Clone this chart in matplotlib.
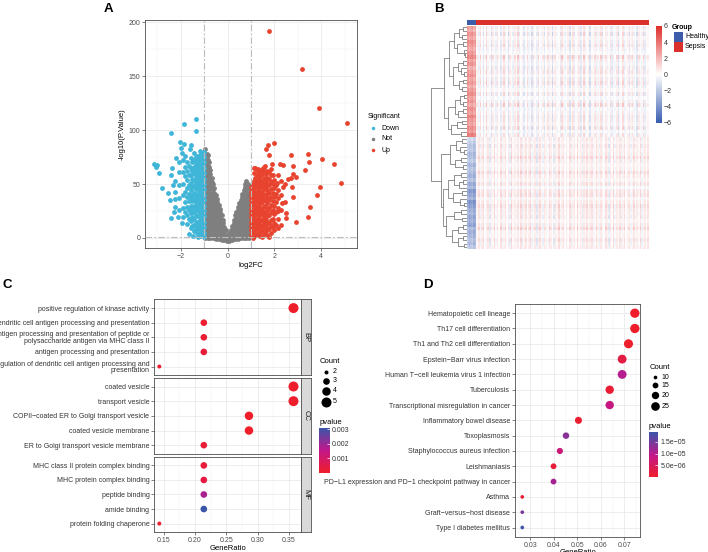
import numpy as np
import matplotlib
matplotlib.use('Agg')
import matplotlib.pyplot as plt
from matplotlib.colors import LinearSegmentedColormap, ListedColormap, Normalize
from matplotlib.cm import ScalarMappable
from matplotlib.patches import Rectangle

plt.rcParams['font.family'] = ['Liberation Sans', 'DejaVu Sans']

# ---------------- A: volcano data ----------------
gray_cols = [
    (-0.96, [0, 4, 9, 13, 18, 22, 27, 31, 36, 40, 45, 49, 54, 58, 63, 67, 72, 76, 82]),
    (-0.90, [2, 6, 11, 15, 20, 24, 29, 33, 38, 42, 47, 51, 56, 60, 65, 69, 74, 78]),
    (-0.85, [0, 4, 9, 13, 18, 22, 27, 31, 36, 40, 45, 49, 54, 58, 63, 67, 72, 77]),
    (-0.80, [2, 6, 11, 15, 20, 24, 29, 33, 38, 42, 47, 51, 56, 61, 66, 70]),
    (-0.74, [0, 4, 9, 13, 18, 22, 27, 31, 36, 40, 45, 49, 54, 59, 63]),
    (-0.68, [2, 6, 11, 15, 20, 24, 29, 33, 38, 42, 47, 52, 56]),
    (-0.62, [0, 4, 9, 13, 18, 22, 27, 31, 36, 40, 45, 50]),
    (-0.56, [2, 6, 11, 15, 20, 24, 29, 33, 38, 42, 46]),
    (-0.50, [-1, 4, 9, 13, 18, 22, 27, 31, 36, 40]),
    (-0.44, [1, 6, 11, 15, 20, 24, 29, 33, 36]),
    (-0.38, [-1, 3, 8, 13, 18, 22, 27, 31]),
    (-0.32, [0, 5, 10, 15, 19, 24, 27]),
    (-0.26, [-2, 3, 8, 12, 17, 21]),
    (-0.20, [0, 5, 10, 14, 17]),
    (-0.14, [-2, 2, 6, 10]),
    (-0.08, [-1, 3, 7]),
    (-0.03, [-3, 1]),
    (0.02, [-2, 2]),
    (0.08, [-3, 1, 5]),
    (0.14, [-1, 3, 7]),
    (0.20, [-2, 3, 7, 11]),
    (0.26, [0, 5, 9, 14, 17]),
    (0.32, [-1, 4, 8, 12, 17, 21]),
    (0.38, [1, 6, 10, 15, 19, 24]),
    (0.44, [-1, 4, 8, 13, 17, 21, 26, 29]),
    (0.50, [2, 6, 11, 15, 20, 24, 29, 32]),
    (0.56, [0, 4, 9, 13, 18, 22, 27, 31, 35]),
    (0.62, [2, 6, 11, 15, 20, 24, 29, 33, 38, 41]),
    (0.68, [0, 4, 9, 13, 18, 22, 27, 31, 36, 40, 44]),
    (0.73, [2, 6, 11, 15, 20, 24, 29, 33, 38, 42, 47, 50]),
    (0.78, [0, 4, 9, 13, 18, 22, 27, 31, 36, 40, 45, 49, 53]),
    (0.84, [2, 6, 11, 15, 20, 24, 29, 33, 38, 42, 47, 51]),
    (0.90, [0, 4, 9, 13, 18, 22, 27, 31, 36, 40, 45, 49]),
    (0.95, [2, 6, 11, 15, 20, 24, 29, 33, 38, 42, 47]),
]
down_cols = [
    (-1.00, [1, 5, 10, 15, 20, 25, 30, 35, 40, 45, 50, 55, 60, 65, 70, 75, 80]),
    (-1.05, [3, 8, 13, 18, 23, 28, 33, 38, 43, 48, 53, 58, 63, 68, 73, 78]),
    (-1.11, [5, 10, 15, 20, 25, 30, 35, 40, 45, 50, 55, 60, 65, 70, 75, 79]),
    (-1.17, [2, 7, 12, 17, 22, 27, 32, 37, 42, 47, 52, 57, 62, 67, 72, 77, 81]),
    (-1.23, [4, 9, 15, 20, 25, 29, 34, 39, 44, 49, 54, 59, 64, 69, 74]),
    (-1.30, [5, 10, 15, 20, 26, 31, 36, 41, 46, 51, 56, 61, 66, 71, 76]),
    (-1.37, [8, 14, 21, 27, 33, 39, 45, 51, 57, 63, 69, 75]),
    (-1.44, [6, 12, 18, 24, 30, 36, 42, 48, 54, 60, 66, 72, 79]),
    (-1.51, [11, 19, 27, 34, 40, 47, 55, 62, 70]),
    (-1.58, [9, 16, 23, 30, 37, 44, 51, 58, 65, 74]),
    (-1.66, [18, 26, 34, 41, 49, 58, 67]),
    (-1.73, [13, 21, 29, 38, 46, 54, 62, 70]),
    (-1.82, [24, 33, 43, 57, 66]),
    (-1.90, [19, 28, 40, 50, 61, 72]),
    (-2.07, [26, 37, 49, 61, 70]),
    (-2.24, [29, 43, 53]),
]
down_out_x = [-1.34, -1.88, -1.34, -2.41, -2.05, -1.87, -1.56, -2.00, -3.15, -3.02, -3.05, -2.92,
              -2.79, -2.41, -2.48, -2.39, -2.42, -2.20, -1.97, -1.80, -2.55, -2.30, -2.12, -1.95,
              -2.26, -1.66, -1.48, -1.28, -1.62, -2.34]
down_out_y = [110.5, 105.6, 98.8, 97.2, 88.6, 87.3, 85.8, 83.3, 69.0, 67.9, 65.7, 60.5,
              46.0, 18.8, 35.2, 64.5, 58.3, 74.0, 79.0, 76.0, 42.0, 24.0, 19.0, 14.0,
              36.0, 4.0, 2.0, 1.0, 82.0, 49.0]
up_cols = [
    (1.00, [3, 7, 11, 15, 19, 23, 27, 31, 35, 39, 43, 47]),
    (1.03, [1, 5, 9, 13, 17, 21, 25, 29, 33, 37, 41, 45]),
    (1.08, [0, 4, 8, 12, 16, 20, 24, 28, 32, 36, 40, 44, 50]),
    (1.12, [2, 6, 10, 14, 18, 22, 26, 30, 34, 38, 42, 47, 53, 60]),
    (1.18, [5, 10, 16, 21, 26, 31, 36, 41, 46, 51, 56, 65]),
    (1.25, [3, 8, 13, 18, 23, 28, 33, 38, 43, 48, 53, 58, 63]),
    (1.33, [5, 10, 15, 20, 25, 30, 35, 40, 45, 50, 55, 60]),
    (1.40, [2, 7, 12, 17, 22, 27, 32, 37, 42, 47, 52, 57, 61]),
    (1.48, [1, 6, 11, 17, 22, 27, 33, 38, 43, 48, 53, 59, 64]),
    (1.55, [4, 9, 14, 19, 24, 30, 35, 40, 45, 50, 56, 62, 66]),
    (1.62, [6, 11, 17, 23, 29, 35, 41, 47, 53, 59]),
    (1.70, [3, 8, 14, 20, 26, 32, 38, 44, 50, 56, 62]),
    (1.78, [1, 8, 14, 21, 28, 35, 42, 49, 55, 61]),
    (1.85, [5, 11, 17, 24, 31, 38, 45, 52, 58, 64]),
    (1.93, [10, 18, 26, 34, 42, 50, 58]),
    (2.00, [7, 14, 22, 30, 38, 46, 54]),
    (2.08, [12, 24, 33, 41, 49]),
    (2.15, [9, 18, 28, 37, 44, 58]),
    (2.30, [12, 26, 40, 53]),
]
up_out_x = [1.75, 3.20, 3.89, 5.11, 1.99, 1.74, 1.62, 1.78, 2.69, 3.42, 4.02, 4.54, 3.46, 2.79,
            3.29, 4.84, 3.93, 3.80, 3.52, 3.43, 2.92, 2.79, 2.76, 2.80, 2.92, 2.72, 2.56, 2.46,
            2.36, 2.24, 2.38, 1.91, 1.58, 1.14, 1.31, 2.45, 2.50, 2.49, 2.33, 2.16, 2.12]
up_out_y = [192.0, 157.0, 120.0, 107.0, 87.7, 85.8, 82.0, 76.8, 76.8, 77.8, 73.4, 69.0, 70.7, 66.7,
            62.7, 50.6, 47.0, 39.8, 28.7, 19.1, 14.8, 38.2, 47.0, 59.0, 56.8, 55.3, 54.4, 50.0,
            47.5, 69.0, 67.9, 69.0, 67.0, 65.0, 63.6, 33.6, 22.8, 18.8, 32.0, 25.0, 51.2]

# ---------------- B: heatmap data ----------------
healthy_up = [2.6, 2.2, 2.9, 2.4, 3.1, 2.7, 2.3, 2.8, 3.3, 2.5, 2.9, 2.1, 2.6, 3.0, 2.4,
              2.8, 2.2, 2.7, 3.2, 2.5, 2.9, 2.3, 3.0, 2.6, 3.4, 2.8, 2.5, 3.1, 2.7, 3.6]
healthy_down = [-1.4, -1.8, -2.2, -2.0, -2.5, -2.3, -1.9, -2.6, -2.1, -2.4, -2.8, -2.2, -3.0, -2.5, -3.6,
                -3.2, -2.7, -3.8, -3.4, -2.9, -2.6, -3.1, -2.8, -3.3, -2.4, -2.9, -2.6, -2.2, -2.5, -2.0]
healthy_cols = [0.3, -0.2, 0.1, 0.4, -0.3, 0.0]
sepsis_cols_top = [0.6, -0.4, 1.2, 0.1, -0.9, 0.3, 1.5, -0.2, 0.4, -1.1, 0.8, 0.0, -0.5, 1.0, 0.2, -0.7, 0.5, 1.3, -0.3, 0.1,
                   -1.2, 0.7, 0.3, -0.4, 0.9, -0.1, 1.4, -0.6, 0.2, 0.6, -0.8, 0.0, 1.1, -0.3, 0.4, -1.0, 0.8, 0.2, -0.5, 1.2,
                   0.1, -0.2, 0.7, -0.9, 0.3, 1.0, -0.4, 0.5, -1.3, 0.6, 0.9, -0.1, 0.2, -0.7, 1.3, 0.4, -0.3, 0.0, 0.8, -1.0,
                   0.5, 1.1, -0.6, 0.3, -0.2, 0.9, -0.8, 0.1, 1.4, -0.4, 0.2, 0.7, -1.1, 0.4, 0.0, 1.0, -0.5, 0.6, -0.2, 1.2,
                   -0.9, 0.3, 0.8, -0.3, 0.1, 1.1, -0.7, 0.5, -0.1, 0.9, -1.2, 0.4, 0.2, 1.3, -0.5, 0.0, 0.7, -0.8, 0.6, 1.0,
                   -0.3, 0.2, -1.0, 0.8, 0.4, -0.2, 1.2, -0.6, 0.3, 0.5]
sepsis_cols_bot = [0.3, 0.9, -0.5, 0.6, 1.1, -0.2, 0.4, 0.8, -0.9, 0.5, 0.2, 1.2, -0.3, 0.7, 0.0, 1.0, -0.6, 0.4, 0.9, -0.1,
                   0.6, -0.8, 1.3, 0.2, 0.5, -0.4, 0.8, 0.1, 1.1, -0.7, 0.4, 0.9, -0.2, 0.6, 1.2, -0.5, 0.3, 0.7, -1.0, 0.5,
                   1.0, 0.2, -0.6, 0.8, 0.4, -0.3, 1.1, 0.6, 0.0, -0.9, 0.7, 0.3, 1.2, -0.4, 0.5, 0.9, -0.2, 0.6, 0.1, 1.0,
                   -0.7, 0.4, 0.8, -0.1, 1.3, 0.2, 0.5, -0.8, 0.7, 0.3, 1.0, -0.3, 0.6, 0.9, -0.5, 0.2, 1.1, 0.4, -0.6, 0.8,
                   0.3, -0.2, 1.0, 0.5, -0.9, 0.7, 0.1, 1.2, -0.4, 0.6, 0.2, 0.9, -0.7, 0.4, 1.1, -0.1, 0.5, 0.8, -0.5, 0.3,
                   1.0, -0.3, 0.6, 0.2, 1.2, -0.6, 0.4, 0.7, -0.2, 0.9]
row_shift = [-0.2, -0.1, -0.3, 0.0, -0.2, -0.1, -0.3, -0.2, 0.1, -0.1, -0.2, -0.3, 0.0, -0.1, -0.2,
             -0.1, -0.3, 0.0, -0.2, -0.1, -0.2, 0.0, -0.3, -0.1, -0.2, -0.1, 0.0, -0.2, -0.3, -0.1,
             0.0, 0.1, -0.1, 0.1, 0.0, 0.2, -0.1, 0.1, 0.0, 0.1, 0.2, 0.0, 0.1, -0.1, 0.2,
             0.1, 0.0, 0.2, 0.1, 0.0, 0.1, -0.1, 0.1, 0.0, 0.2, 0.0, 0.1, 0.0, -0.1, 0.1]
row_gain = [0.9, 0.6, 1.2, 0.5, 0.8, 1.1, 0.7, 0.4, 1.3, 0.8, 0.6, 1.0, 1.0, 0.5, 0.9,
            1.2, 0.7, 0.4, 1.1, -0.3, 0.8, 1.3, 0.5, 0.7, 1.0, 0.9, 0.6, 1.2, 0.4, 0.9,
            0.8, 0.5, 1.1, 0.6, 0.8, 1.2, 0.9, 0.4, 0.7, 1.3, 0.6, 0.5, 1.0, -0.3, 0.8,
            1.1, 0.5, 0.6, 1.2, 0.9, 0.7, 1.0, 0.4, 0.9, 1.3, 0.6, 0.5, 1.1, 0.8, 0.7]
top_tree = [0.64,
            [0.50,
             [0.36, [0.22, [0.10, 0, 1], [0.14, 2, 3]], [0.27, [0.12, 4, 5], [0.09, 6, [0.05, 7, 8]]]],
             [0.40, [0.25, [0.11, 9, 10], [0.17, 11, [0.08, 12, 13]]], [0.21, [0.10, 14, 15], [0.13, 16, 17]]]],
            [0.54,
             [0.34, [0.19, [0.08, 18, 19], [0.12, 20, 21]], [0.24, [0.11, 22, 23], 24]],
             [0.44, [0.28, [0.13, 25, 26], 27], [0.18, 28, 29]]]]
bottom_tree = [0.72,
               [0.46, [0.30, [0.14, 30, 31], [0.20, 32, [0.09, 33, 34]]], [0.33, [0.16, 35, 36], [0.12, 37, 38]]],
               [0.66,
                [0.52, [0.35, [0.18, 39, 40], [0.22, [0.10, 41, 42], 43]],
                 [0.38, [0.15, 44, 45], [0.20, 46, [0.08, 47, 48]]]],
                [0.58, [0.36, [0.17, 49, 50], [0.14, 51, 52]],
                 [0.42, [0.24, [0.11, 53, 54], 55], [0.26, [0.12, 56, 57], [0.09, 58, 59]]]]]]
tree = [1.0, top_tree, bottom_tree]

# ---------------- C: GO enrichment ----------------
go_facets = ['BP', 'CC', 'MF']
go_terms = [
    ['positive regulation of kinase activity',
     'dendritic cell antigen processing and presentation',
     'antigen processing and presentation of peptide or\npolysaccharide antigen via MHC class II',
     'antigen processing and presentation',
     'regulation of dendritic cell antigen processing and\npresentation'],
    ['coated vesicle', 'transport vesicle', 'COPII\u2212coated ER to Golgi transport vesicle',
     'coated vesicle membrane', 'ER to Golgi transport vesicle membrane'],
    ['MHC class II protein complex binding', 'MHC protein complex binding', 'peptide binding',
     'amide binding', 'protein folding chaperone'],
]
go_ratio = [[0.357, 0.214, 0.214, 0.214, 0.143],
            [0.357, 0.357, 0.286, 0.286, 0.214],
            [0.214, 0.214, 0.214, 0.214, 0.143]]
go_count = [[5, 3, 3, 3, 2], [5, 5, 4, 4, 3], [3, 3, 3, 3, 2]]
go_p = [[2e-5, 1.5e-4, 2e-4, 3e-4, 1e-4],
        [3e-5, 6e-5, 1e-5, 5e-6, 2e-4],
        [2.5e-4, 3.5e-4, 1.8e-3, 3.1e-3, 1e-4]]

# ---------------- D: KEGG enrichment ----------------
kegg_terms = ['Hematopoietic cell lineage', 'Th17 cell differentiation', 'Th1 and Th2 cell differentiation',
              'Epstein\u2212Barr virus infection', 'Human T\u2212cell leukemia virus 1 infection', 'Tuberculosis',
              'Transcriptional misregulation in cancer', 'Inflammatory bowel disease', 'Toxoplasmosis',
              'Staphylococcus aureus infection', 'Leishmaniasis',
              'PD\u2212L1 expression and PD\u22121 checkpoint pathway in cancer', 'Asthma',
              'Graft\u2212versus\u2212host disease', 'Type I diabetes mellitus']
kegg_ratio = [0.0745, 0.0745, 0.0718, 0.0691, 0.0691, 0.0638, 0.0638, 0.0505, 0.0452, 0.0426,
              0.0399, 0.0399, 0.0266, 0.0266, 0.0266]
kegg_count = [28, 28, 27, 26, 26, 24, 24, 19, 17, 16, 15, 15, 10, 10, 10]
kegg_p = [2e-8, 5e-8, 3e-7, 2.5e-6, 1.05e-5, 1.2e-6, 8.5e-6, 6e-7, 1.35e-5, 7.5e-6,
          1.5e-6, 1.15e-5, 1e-6, 1.45e-5, 1.9e-5]

# ---------------- figure ----------------
W, H = 708, 552
fig = plt.figure(figsize=(W / 100, H / 100), dpi=100)
ov = fig.add_axes([0, 0, 1, 1])
ov.set_xlim(0, W)
ov.set_ylim(H, 0)
ov.axis('off')


def box(l, t, r, b):
    return fig.add_axes([l / W, 1 - b / H, (r - l) / W, (b - t) / H])


def bw(ax):
    for s in ax.spines.values():
        s.set_color('#4d4d4d')
        s.set_linewidth(0.6)
    ax.tick_params(which='major', labelsize=5, colors='#4d4d4d', length=2, width=0.5, pad=1.5)
    ax.tick_params(which='minor', length=0)
    ax.grid(which='major', color='#e6e6e6', lw=0.5)
    ax.grid(which='minor', color='#f2f2f2', lw=0.35)
    ax.set_axisbelow(True)


def pts(d_px):
    return (d_px * 0.72) ** 2


def area_size(c, cmin, cmax, dmin, dmax):
    c = np.asarray(c, dtype=float)
    return pts(np.sqrt(dmin ** 2 + (c - cmin) / (cmax - cmin) * (dmax ** 2 - dmin ** 2)))


def flatten(cols):
    xs, ys = [], []
    for x, yl in cols:
        xs += [x] * len(yl)
        ys += yl
    return xs, ys


c_down, c_not, c_up = '#3fb5d8', '#7f7f7f', '#e8432e'

# A
axA = box(145, 20, 357, 248)
bw(axA)
gx, gy = flatten(gray_cols)
dx, dy = flatten(down_cols)
ux, uy = flatten(up_cols)
axA.scatter(gx, gy, s=12, c=c_not, lw=0)
axA.scatter(dx + down_out_x, dy + down_out_y, s=12, c=c_down, lw=0)
axA.scatter(ux + up_out_x, uy + up_out_y, s=12, c=c_up, lw=0)
dash = (0, (6, 2, 1.5, 2))
for v in (-1, 1):
    axA.axvline(v, color='#bdbdbd', lw=0.8, ls=dash, zorder=3)
axA.axhline(1.3, color='#bdbdbd', lw=0.8, ls=dash, zorder=3)
axA.set_xlim(-3.53, 5.53)
axA.set_ylim(-9.3, 202)
axA.set_xticks([-2, 0, 2, 4])
axA.set_xticks([-3, -1, 1, 3, 5], minor=True)
axA.set_yticks([0, 50, 100, 150, 200])
axA.set_yticks([25, 75, 125, 175], minor=True)
axA.set_xlabel('log2FC', fontsize=5.5, labelpad=1.5)
axA.set_ylabel('-log10(P.Value)', fontsize=5.5, labelpad=2)

ov.text(368, 117, 'Significant', fontsize=5, va='center', ha='left')
for yy, lab, col in [(128, 'Down', c_down), (139, 'Not', c_not), (150, 'Up', c_up)]:
    ov.scatter([373], [yy], s=pts(3.5), c=col, lw=0)
    ov.text(381, yy, lab, fontsize=5, va='center', ha='left')

# B
n_h = len(healthy_cols)
n_top = len(healthy_up)
h_rows = np.array(healthy_up + healthy_down)
sep_pattern = np.vstack([np.tile(sepsis_cols_top, (n_top, 1)),
                         np.tile(sepsis_cols_bot, (len(healthy_down), 1))])
mat = np.hstack([h_rows[:, None] + np.array(healthy_cols)[None, :],
                 np.array(row_shift)[:, None] + np.array(row_gain)[:, None] * sep_pattern])
hm_cmap = LinearSegmentedColormap.from_list('hm', ['#3a5db0', '#ffffff', '#dd2e2a'])
g_blue, g_red = '#3d5dab', '#d9302c'

axAnn = box(467, 20, 648, 25)
axAnn.imshow([[0] * n_h + [1] * len(sepsis_cols_top)], aspect='auto',
             cmap=ListedColormap([g_blue, g_red]), interpolation='nearest')
axAnn.axis('off')

axH = box(467, 25.5, 648, 249.3)
axH.imshow(mat, aspect='auto', cmap=hm_cmap, vmin=-6, vmax=6, interpolation='nearest')
axH.axis('off')

axDen = box(430, 25.5, 467, 249.3)


def draw_tree(ax, node):
    if isinstance(node, int):
        return node + 0.5, 0.0
    h, left, right = node
    y1, h1 = draw_tree(ax, left)
    y2, h2 = draw_tree(ax, right)
    ax.plot([h1, h, h, h2], [y1, y1, y2, y2], color='#555555', lw=0.45, solid_capstyle='butt')
    return (y1 + y2) / 2, h


draw_tree(axDen, tree)
axDen.set_xlim(1.03, 0)
axDen.set_ylim(len(h_rows), 0)
axDen.axis('off')

caxB = box(656, 26, 661.7, 122.7)
cbB = fig.colorbar(ScalarMappable(Normalize(-6, 6), hm_cmap), cax=caxB)
cbB.outline.set_visible(False)
cbB.set_ticks([-6, -4, -2, 0, 2, 4, 6])
cbB.set_ticklabels(['\u22126', '\u22124', '\u22122', '0', '2', '4', '6'])
caxB.tick_params(labelsize=5, length=0, pad=1.5, colors='#333333')

ov.text(671.7, 27.3, 'Group', fontsize=5, fontweight='bold', va='center', ha='left')
ov.add_patch(Rectangle((674, 32), 9, 9.7, color=g_blue, lw=0))
ov.add_patch(Rectangle((674, 41.7), 9, 10, color=g_red, lw=0))
ov.text(685, 36.8, 'Healthy', fontsize=5, va='center', ha='left')
ov.text(685, 46.7, 'Sepsis', fontsize=5, va='center', ha='left')

# C
pcmap = LinearSegmentedColormap.from_list('pv', ['#ef1e2a', '#c2178b', '#3b55a8'])
all_p = sum(go_p, [])
normC = Normalize(min(all_p), max(all_p))
facet_rows = [(299.3, 375.3), (377.7, 454), (456.7, 532.3)]
for k, (t, b) in enumerate(facet_rows):
    ax = box(154.3, t, 301, b)
    bw(ax)
    yy = np.arange(1, len(go_terms[k]) + 1)
    ax.scatter(go_ratio[k], yy, s=area_size(go_count[k], 2, 5, 4, 10), c=go_p[k], cmap=pcmap,
               norm=normC, lw=0, zorder=3)
    ax.set_ylim(len(yy) + 0.6, 0.4)
    ax.set_yticks(yy)
    ax.set_yticklabels(go_terms[k], fontsize=5, color='#333333', linespacing=0.95)
    ax.set_xlim(0.135, 0.369)
    ax.set_xticks([0.15, 0.20, 0.25, 0.30, 0.35])
    ax.set_xticks([0.175, 0.225, 0.275, 0.325], minor=True)
    if k < 2:
        ax.tick_params(axis='x', which='major', length=0, labelbottom=False)
    else:
        ax.set_xticklabels(['0.15', '0.20', '0.25', '0.30', '0.35'])
        ax.set_xlabel('GeneRatio', fontsize=5.5, labelpad=0.5)
    st = box(301, t, 310.7, b)
    st.set_facecolor('#d9d9d9')
    for s in st.spines.values():
        s.set_color('#4d4d4d')
        s.set_linewidth(0.6)
    st.set_xticks([])
    st.set_yticks([])
    st.text(0.5, 0.5, go_facets[k], rotation=270, fontsize=5.5, color='#1a1a1a',
            ha='center', va='center', transform=st.transAxes)

ov.text(320, 361.7, 'Count', fontsize=5.5, va='center', ha='left')
for yy, cnt in zip([371.7, 380.7, 390.7, 401.7], [2, 3, 4, 5]):
    ov.scatter([325.5], [yy], s=area_size([cnt], 2, 5, 4, 10), c='black', lw=0)
    ov.text(333, yy, str(cnt), fontsize=5, va='center', ha='left')
ov.text(319.3, 422.7, 'pvalue', fontsize=5.5, va='center', ha='left')
caxC = box(319.3, 428, 330, 472.7)
cbC = fig.colorbar(ScalarMappable(normC, pcmap), cax=caxC)
cbC.outline.set_visible(False)
cbC.set_ticks([0.001, 0.002, 0.003])
cbC.set_ticklabels(['0.001', '0.002', '0.003'])
caxC.tick_params(labelsize=5, length=2, width=0.5, color='white', direction='in', pad=1.5, labelcolor='#333333')

# D
normD = Normalize(min(kegg_p), max(kegg_p))
axD = box(515, 304, 640, 536.7)
bw(axD)
yk = np.arange(1, len(kegg_terms) + 1)
axD.scatter(kegg_ratio, yk, s=area_size(kegg_count, 10, 28, 3.7, 9.3), c=kegg_p, cmap=pcmap,
            norm=normD, lw=0, zorder=3)
axD.set_ylim(len(yk) + 0.6, 0.4)
axD.set_yticks(yk)
axD.set_yticklabels(kegg_terms, fontsize=5, color='#333333')
axD.set_xlim(0.0235, 0.0767)
axD.set_xticks([0.03, 0.04, 0.05, 0.06, 0.07])
axD.set_xticks([0.025, 0.035, 0.045, 0.055, 0.065, 0.075], minor=True)
axD.set_xticklabels(['0.03', '0.04', '0.05', '0.06', '0.07'])
axD.set_xlabel('GeneRatio', fontsize=5.5, labelpad=0.5)

ov.text(649.3, 367.3, 'Count', fontsize=5.5, va='center', ha='left')
for yy, cnt in zip([377.3, 385.3, 395.3, 406], [10, 15, 20, 25]):
    ov.scatter([654.7], [yy], s=area_size([cnt], 10, 28, 3.7, 9.3), c='black', lw=0)
    ov.text(661.7, yy, str(cnt), fontsize=5, va='center', ha='left')
ov.text(649, 426, 'pvalue', fontsize=5.5, va='center', ha='left')
caxD = box(649.3, 432.3, 658.3, 477.3)
cbD = fig.colorbar(ScalarMappable(normD, pcmap), cax=caxD)
cbD.outline.set_visible(False)
cbD.set_ticks([5e-6, 1e-5, 1.5e-5])
cbD.set_ticklabels(['5.0e\u221206', '1.0e\u221205', '1.5e\u221205'])
caxD.tick_params(labelsize=5, length=2, width=0.5, color='white', direction='in', pad=1.5, labelcolor='#333333')

# panel letters
for lab, x, y in [('A', 108, 8.5), ('B', 439, 8.5), ('C', 7.5, 285), ('D', 427.5, 285)]:
    ov.text(x, y, lab, fontsize=9.5, fontweight='bold', ha='center', va='center')

fig.savefig('out.png', dpi=100)
